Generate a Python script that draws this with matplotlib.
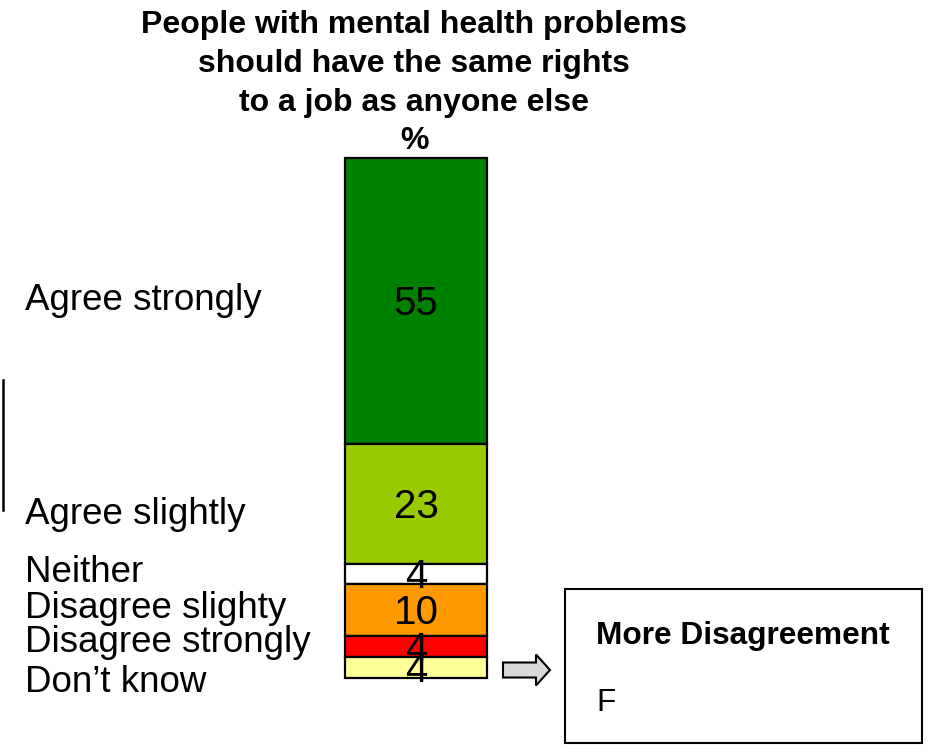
import matplotlib
matplotlib.use("Agg")
import matplotlib.pyplot as plt
from matplotlib.patches import Rectangle, FancyArrow
from matplotlib.transforms import offset_copy

plt.rcParams['font.family'] = ['Liberation Sans', 'DejaVu Sans']

categories = ["Agree strongly", "Agree slightly", "Neither", "Disagree slighty",
              "Disagree strongly", "Don\u2019t know"]
values = [55, 23, 4, 10, 4, 4]
colors = ["#008000", "#99cc00", "#ffffff", "#ff9900", "#ff0000", "#ffff99"]
label_y_px = [301, 514, 572, 609, 642, 682]
title_lines = ["People with mental health problems", "should have the same rights",
               "to a job as anyone else", "%"]
title_y_px = [25, 64, 103, 141]

W, H = 930, 752
fig = plt.figure(figsize=(W / 100, H / 100), dpi=100)

def fx(px):
    return px / W

def fy(py):
    return 1 - py / H

ax = fig.add_axes([fx(345), fy(678), fx(487) - fx(345), fy(158) - fy(678)])
ax.set_xlim(-0.5, 0.5)
ax.set_ylim(100, 0)
ax.axis('off')

val_trans = offset_copy(ax.transData, fig=fig, x=0, y=-3, units='dots')
bottom = 0
for v, c in zip(values, colors):
    ax.bar(0, v, bottom=bottom, width=1.0, color=c, edgecolor='black',
           linewidth=1.6, clip_on=False)
    ax.text(0, bottom + v / 2, str(v), ha='center', va='center',
            fontsize=29, color='black', transform=val_trans)
    bottom += v

for cat, py in zip(categories, label_y_px):
    fig.text(fx(25), fy(py), cat, ha='left', va='center', fontsize=26.5)

for line, py in zip(title_lines, title_y_px):
    fig.text(fx(414), fy(py), line, ha='center', va='center', fontsize=23,
             fontweight='bold')

# vertical line at left
fig.add_artist(plt.Line2D([fx(3), fx(3)], [fy(380), fy(510)], color='black',
                          linewidth=1.8))

# arrow
arr = FancyArrow(fx(503), fy(670), fx(550) - fx(503) - fx(14), 0,
                 width=15 / H, head_width=31 / H, head_length=fx(14),
                 length_includes_head=False, transform=fig.transFigure,
                 facecolor='#d9d9d9', edgecolor='black', linewidth=1.5)
fig.add_artist(arr)

# box
box = Rectangle((fx(565), fy(743)), fx(922) - fx(565), fy(589) - fy(743),
                transform=fig.transFigure, facecolor='white', edgecolor='black',
                linewidth=1.5)
fig.add_artist(box)
fig.text(fx(596), fy(636), "More Disagreement", ha='left', va='center',
         fontsize=22.8, fontweight='bold')
fig.text(fx(596), fy(703), "F", ha='left', va='center', fontsize=22.8)

fig.savefig("out.png", dpi=100, facecolor='white')
